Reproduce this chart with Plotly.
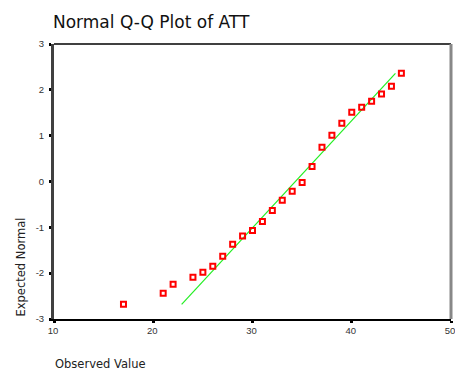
import plotly.graph_objects as go

# Observed values and their expected normal quantiles
observed = [17, 21, 22, 24, 25, 26, 27, 28, 29, 30, 31, 32, 33, 34, 35,
            36, 37, 38, 39, 40, 41, 42, 43, 44, 45]
expected = [-2.68, -2.44, -2.24, -2.09, -1.98, -1.85, -1.63, -1.37, -1.19, -1.07,
            -0.87, -0.63, -0.41, -0.21, -0.02, 0.33, 0.75, 1.01, 1.27, 1.51,
            1.62, 1.75, 1.91, 2.08, 2.36]

# Reference normal line endpoints
line_x = [22.86, 44.4]
line_y = [-2.68, 2.36]

x_ticks = [10, 20, 30, 40, 50]
y_ticks = [-3, -2, -1, 0, 1, 2, 3]

title_text = "Normal Q-Q Plot of ATT"
x_title = "Observed Value"
y_title = "Expected Normal"

fig = go.Figure()
fig.add_trace(go.Scatter(x=line_x, y=line_y, mode="lines",
                         line=dict(color="#22ee22", width=1.2),
                         hoverinfo="skip", showlegend=False))
fig.add_trace(go.Scatter(x=observed, y=expected, mode="markers",
                         marker=dict(symbol="square-open", size=5, color="#ff0000",
                                     line=dict(width=2, color="#ff0000")),
                         showlegend=False))

tickfont = dict(family="Liberation Sans", size=9.5, color="#333333")
fig.update_layout(
    width=455, height=370,
    margin=dict(l=54, r=4, t=44, b=51),
    paper_bgcolor="white", plot_bgcolor="white",
    title=dict(text=title_text, x=53 / 455, xanchor="left", y=1 - 22 / 370, yanchor="middle",
               font=dict(family="DejaVu Sans", size=17, color="#111111")),
    xaxis=dict(range=[10, 50], tickvals=x_ticks, ticktext=[str(v) for v in x_ticks],
               showgrid=False, zeroline=False, showline=True, linecolor="black", linewidth=2,
               ticks="outside", ticklen=2, tickwidth=3, tickcolor="black", tickfont=tickfont,
               ticklabeloverflow="allow", ticklabelshift=-1, automargin=False),
    yaxis=dict(range=[-3, 3], tickvals=y_ticks, ticktext=[str(v) for v in y_ticks],
               showgrid=False, zeroline=False, showline=True, linecolor="#404040", linewidth=3,
               ticks="outside", ticklen=2, tickwidth=3, tickcolor="black", tickfont=tickfont,
               ticklabelstandoff=3, automargin=False),
    shapes=[
        dict(type="line", xref="paper", yref="paper", x0=0, x1=1, y0=1, y1=1,
             line=dict(color="black", width=1.5)),
        dict(type="line", xref="paper", yref="paper", x0=1, x1=1, y0=0, y1=1,
             line=dict(color="#888888", width=3)),
    ],
    annotations=[
        dict(text=x_title, xref="paper", yref="paper", x=-1 / 397, y=-45 / 275,
             xanchor="left", yanchor="middle", showarrow=False,
             font=dict(family="DejaVu Sans", size=11.5, color="#222222")),
        dict(text=y_title, xref="paper", yref="paper", x=-34 / 397, y=0,
             xanchor="center", yanchor="bottom", textangle=-90, showarrow=False,
             font=dict(family="DejaVu Sans", size=11.5, color="#222222")),
    ],
)

# remove the default page margin so the figure fills the window exactly
fig.write_html("out.html",
               config={"displayModeBar": False},
               post_script="document.body.style.margin='0px';document.body.style.overflow='hidden';")
